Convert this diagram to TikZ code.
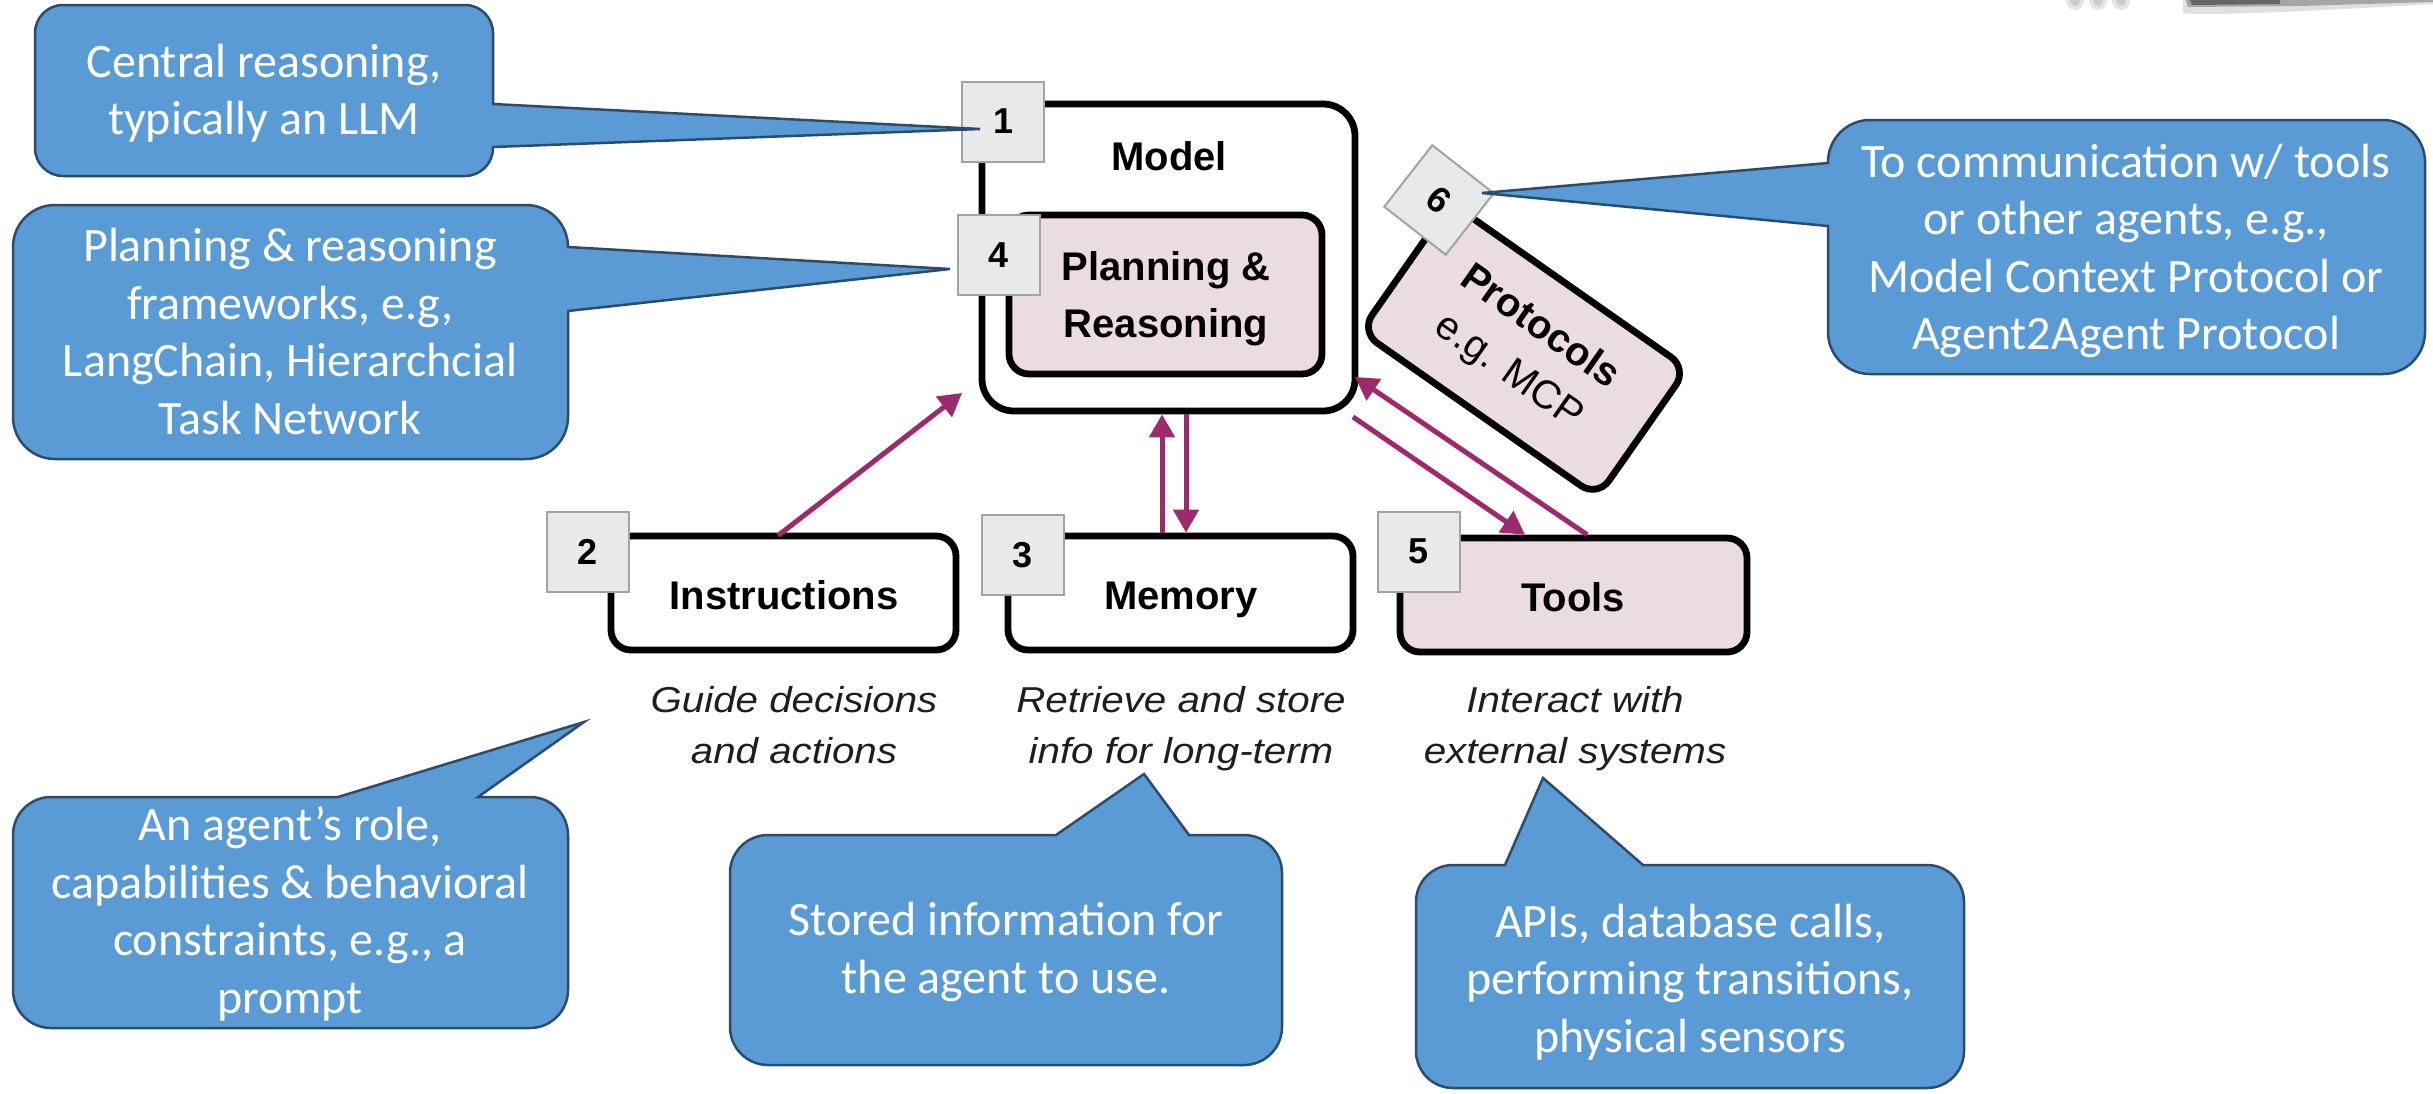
\documentclass[tikz,border=0pt]{standalone}
\usepackage{fontspec}
\setmainfont{Liberation Sans}
\newfontfamily\calloutfont{Carlito}
\newfontfamily\descfont[FakeStretch=1.12]{Liberation Sans}
\usetikzlibrary{arrows.meta,calc}

\definecolor{callblue}{HTML}{5B9BD5}
\definecolor{callline}{HTML}{2B4C6F}
\definecolor{pinkfill}{HTML}{EBDCE0}
\definecolor{numfill}{HTML}{E8E9EB}
\definecolor{numline}{HTML}{A3A3A3}
\definecolor{flow}{HTML}{9E2A6E}
\definecolor{desctext}{HTML}{1E1E1E}

\tikzset{
  callout/.style={fill=callblue, draw=callline, line width=2.5pt, line join=miter},
  callouttext/.style={text=white, align=center, anchor=base, inner sep=0pt,
    font=\calloutfont\fontsize{48}{57.5}\selectfont},
  part/.style={draw=black, line width=6.8pt, rounded corners=20pt, inner sep=0pt},
  numbox/.style={fill=numfill, draw=numline, line width=2pt, minimum width=82pt,
    minimum height=80pt, inner sep=0pt, font=\bfseries\fontsize{36}{40}\selectfont},
  partlabel/.style={font=\bfseries\fontsize{40}{57}\selectfont, align=center,
    anchor=base, inner sep=0pt},
  desc/.style={font=\descfont\itshape\fontsize{36}{51}\selectfont, text=desctext,
    align=center, anchor=base, inner sep=0pt},
  flowarrow/.style={draw=flow, line width=5pt, -{Triangle[length=23pt,width=25pt]}},
}

% Rounded speech box. #1,#2: top-left corner, #3,#4: bottom-right corner
% (y measured downwards), #5: corner radius; #6, #7, #8: pointer segments
% inserted on the top, right and left sides.
\newcommand\speechbox[8]{%
  \draw[callout] ({#1+#5},-#2) #6 -- ({#3-#5},-#2)
    arc[start angle=90,end angle=0,radius=#5pt] #7 -- (#3,{-#4+#5})
    arc[start angle=0,end angle=-90,radius=#5pt] -- ({#1+#5},-#4)
    arc[start angle=270,end angle=180,radius=#5pt] #8 -- (#1,{-#2-#5})
    arc[start angle=180,end angle=90,radius=#5pt] -- cycle;}

\begin{document}
% multi-line text nodes are placed by the baseline of their last line
\begin{tikzpicture}[x=1pt,y=1pt]
\useasboundingbox (0,0) rectangle (2433,-1093);
\fill[white] (0,0) rectangle (2433,-1093);

% clipped picture fragment at the top edge
\foreach \dx in {2075,2098,2121} {
  \fill[gray!20] (\dx,-1) circle[radius=9];
  \fill[gray!40] (\dx,-1) circle[radius=5];
}
\fill[black!12] (2183,0) -- (2183,-13) .. controls (2200,-16) and (2300,-12) .. (2433,-4)
  -- (2433,0) -- cycle;
\fill[black!35] (2186,0) -- (2188,-7) -- (2300,-6) -- (2433,-2) -- (2433,0) -- cycle;
\fill[black!60] (2190,0) -- (2192,-5) -- (2280,-4) -- (2280,0) -- cycle;

% ---------- agent components ----------
\node[part, fill=white, minimum width=373pt, minimum height=307pt,
      rounded corners=32pt] (model) at (1168.5,-257.5) {};
\node[partlabel] (modeltitle) at (1169,-170) {Model};
\node[part, fill=pinkfill, minimum width=313pt, minimum height=159pt] (plan)
      at (1165.5,-294.5) {};
\node[partlabel] (plantext) at (1166,-337) {Planning \&\\Reasoning};

\node[part, fill=pinkfill, minimum width=289pt, minimum height=157pt, rotate=-35,
      align=center, font=\fontsize{40}{54}\selectfont] (proto) at (1524,-350)
      {\textbf{Protocols}\\e.g. MCP};

\node[part, fill=white, minimum width=345pt, minimum height=114pt] (instr)
      at (783.5,-593) {};
\node[partlabel] (instrtext) at (784,-609) {Instructions};
\node[part, fill=white, minimum width=345pt, minimum height=114pt] (memory)
      at (1180.5,-593) {};
\node[partlabel] (memtext) at (1181,-609) {Memory};
\node[part, fill=pinkfill, minimum width=347pt, minimum height=114pt] (tools)
      at (1573.5,-595) {};
\node[partlabel] (tooltext) at (1573,-611) {Tools};

% descriptions under the components
\node[desc] (instrdesc) at (794,-763) {Guide decisions\\and actions};
\node[desc] (memdesc) at (1181,-763) {Retrieve and store\\info for long-term};
\node[desc] (tooldesc) at (1575,-763) {Interact with\\external systems};

% numbered tags
\node[numbox] (n1) at (1003,-121.5) {1};
\node[numbox] (n4) at (998.5,-255) {4};
\node[numbox] (n2) at (587.5,-551.5) {2};
\node[numbox] (n3) at (1022.5,-555) {3};
\node[numbox] (n5) at (1418.5,-551.5) {5};
\node[numbox, minimum width=78pt, minimum height=78pt, rotate=-38] (n6)
      at (1439,-200) {6};

% ---------- flows ----------
\coordinate (upx) at (1162,0);
\coordinate (downx) at (1186,0);
\draw[flowarrow] ($(instr.north)+(-5.5,-3)$) -- ($(model.south west)+(-16.5,21.5)$);
\draw[flowarrow] (upx |- memory.north) -- (upx |- model.south);
\draw[flowarrow] (downx |- model.south) -- (downx |- memory.north);
\draw[flowarrow] ($(tools.north)+(13.5,0)$) -- ($(model.south east)+(-3.5,37.5)$);
\draw[flowarrow] ($(model.south east)+(-5.5,-2.5)$) -- ($(tools.north)+(-48.5,0)$);

% ---------- speech boxes ----------
\coordinate (tip1) at (980,-129);
\coordinate (tip4) at (950,-269);
\coordinate (tip6) at (1482,-193);
\coordinate (tip2) at (584,-722);
\coordinate (tip3) at (1144,-774);
\coordinate (tip5) at (1543,-778);

\speechbox{35}{5}{493}{176}{28}{}{-- (493,-104) -- (tip1) -- (493,-147)}{}
\speechbox{13}{205}{568}{459}{42}{}{-- (568,-247) -- (tip4) -- (568,-311)}{}
\speechbox{1828}{120}{2425}{374}{42}{}{}{-- (1828,-226) -- (tip6) -- (1828,-163)}
\speechbox{13}{797}{568}{1028}{38}{-- (338,-797) -- (tip2) -- (478,-797)}{}{}
\speechbox{730}{835}{1282}{1065}{38}{-- (1056,-835) -- (tip3) -- (1189,-835)}{}{}
\speechbox{1416}{865}{1964}{1088}{37}{-- (1505,-865) -- (tip5) -- (1643,-865)}{}{}

\node[callouttext] (c1) at (264,-134.5) {Central reasoning,\\typically an LLM};
\node[callouttext] (c4) at (290,-434)
  {Planning \& reasoning\\frameworks, e.g,\\LangChain, Hierarchcial\\Task Network};
\node[callouttext] (c6) at (2126,-349.5)
  {To communication w/ tools\\or other agents, e.g.,\\Model Context Protocol or\\Agent2Agent Protocol};
\node[callouttext] (c2) at (290,-1013)
  {An agent’s role,\\capabilities \& behavioral\\constraints, e.g., a\\prompt};
\node[callouttext] (c3) at (1006,-993) {Stored information for\\the agent to use.};
\node[callouttext] (c5) at (1690,-1052)
  {APIs, database calls,\\performing transitions,\\physical sensors};
\end{tikzpicture}
\end{document}
